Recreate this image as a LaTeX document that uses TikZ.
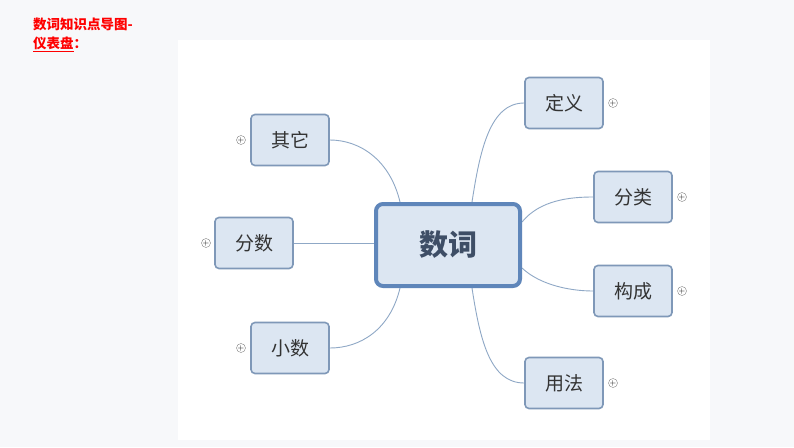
\documentclass[tikz,border=0pt]{standalone}
\usepackage{fontspec}
\newfontfamily\cjk{Noto Sans CJK SC}
\begin{document}
\begin{tikzpicture}[x=1pt,y=-1pt,
  leaf/.style={draw=boxb,line width=1.6pt,fill=boxf,rounded corners=4pt,minimum width=78pt,minimum height=51pt,font=\cjk\fontsize{19}{19}\selectfont,text=txt},
  link/.style={draw=linec,line width=0.9pt},
  plus/.style={circle,draw=gray,fill=white,inner sep=0pt,minimum size=9pt,font=\fontsize{8}{8}\selectfont}]
\definecolor{boxb}{HTML}{7F98B8}\definecolor{boxf}{HTML}{DCE6F2}
\definecolor{linec}{HTML}{8FA8C6}\definecolor{txt}{HTML}{333333}
\definecolor{cb}{HTML}{5F86BA}\definecolor{bg}{HTML}{F7F8FA}\definecolor{ctxt}{HTML}{3E4E66}
\useasboundingbox (0,0) rectangle (794,447);
\fill[bg] (0,0) rectangle (794,447);
\fill[white] (178,40) rectangle (710,440);
\node[anchor=north west,text=red,font=\cjk\bfseries\fontsize{13.5}{19}\selectfont,align=left,inner sep=0pt] (t) at (33,18) {数词知识点导图-\\\underline{仪表盘}：};
\node[leaf] (dy) at (564,103) {定义};
\node[leaf] (fl) at (633,197) {分类};
\node[leaf] (gc) at (633,291) {构成};
\node[leaf] (yf) at (564,383) {用法};
\node[leaf] (qt) at (290,140) {其它};
\node[leaf] (fs) at (254,243) {分数};
\node[leaf] (xs) at (290,348) {小数};
\coordinate (c1) at (472,202);\coordinate (c2) at (522,222);\coordinate (c3) at (522,268);
\coordinate (c4) at (472,288);\coordinate (c5) at (400,202);\coordinate (c6) at (374,243);\coordinate (c7) at (400,288);
\draw[link] (c1) .. controls (480,150) and (490,103) .. (dy.west);
\draw[link] (c2) .. controls (540,200) and (570,197) .. (fl.west);
\draw[link] (c3) .. controls (540,285) and (570,291) .. (gc.west);
\draw[link] (c4) .. controls (480,340) and (490,383) .. (yf.west);
\draw[link] (c5) .. controls (390,160) and (360,140) .. (qt.east);
\draw[link] (c6) -- (fs.east);
\draw[link] (c7) .. controls (390,330) and (360,348) .. (xs.east);
\node[draw=cb,line width=4pt,fill=boxf,rounded corners=7pt,minimum width=144pt,minimum height=82pt,font=\cjk\bfseries\fontsize{29}{29}\selectfont,text=ctxt] (c) at (448,245) {数词};
\node[plus] (p1) at (613,103) {+};\node[plus] (p2) at (682,197) {+};
\node[plus] (p3) at (682,291) {+};\node[plus] (p4) at (613,383) {+};
\node[plus] (p5) at (241,140) {+};\node[plus] (p6) at (206,243) {+};
\node[plus] (p7) at (241,348) {+};
\end{tikzpicture}
\end{document}
